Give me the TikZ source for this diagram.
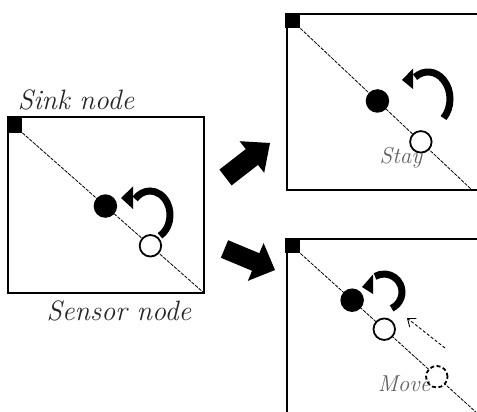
\documentclass[tikz,border=0pt]{standalone}
\usetikzlibrary{arrows.meta,calc}
\begin{document}
\begin{tikzpicture}[x=1pt,y=-1pt,
  frame/.style={line width=2.5pt},
  diag/.style={line width=0.8pt, dash pattern=on 3.5pt off 1.2pt},
  sinksq/.style={fill=black, minimum size=15pt, inner sep=0pt, anchor=north west},
  fullnode/.style={circle, fill=black, minimum size=23.5pt, inner sep=0pt},
  emptynode/.style={circle, draw, fill=white, line width=1.8pt, minimum size=21.5pt, inner sep=0pt},
  ghostnode/.style={circle, draw, fill=white, line width=1.8pt, dash pattern=on 4pt off 2.5pt, minimum size=21.5pt, inner sep=0pt},
  turn/.style={line width=7pt},
  turnhead/.style={fill=black},
  block/.style={fill=black},
  hint/.style={line width=0.9pt, dash pattern=on 3pt off 2pt, -{Straight Barb[length=7pt,width=11pt]}},
  caption/.style={font=\fontsize{28}{32}\selectfont\itshape, text=black!85, inner sep=0pt},
  tag/.style={font=\fontsize{23}{26}\selectfont\itshape, text=black!62, inner sep=0pt}]

\useasboundingbox (0,0) rectangle (477,412);
\clip (0,0) rectangle (477,412);

% ---- left panel: initial state ----
\draw[frame] (8,117) rectangle (204,293);
\coordinate (c1) at (204,293);
\node[sinksq] (sink1) at (7,117.5) {};
\draw[diag] (sink1.south east) -- (c1);
\path (sink1.south east) -- (c1)
  node[fullnode, pos=0.457] (b1) {}
  node[emptynode, pos=0.705] (w1) {};
\coordinate (r1) at (150,215);
\draw[turn] ($(r1)+(60:20 and 24)$) arc[start angle=60, end angle=-138, x radius=20, y radius=24];
\fill[turnhead] (133,186.5) -- (133,209) -- (121,198) -- cycle;
\node[caption, anchor=base] (sinktxt) at (76,110) {Sink node};
\node[caption, anchor=base] (sensortxt) at (119,320) {Sensor node};

% ---- block arrows to the two outcomes ----
\fill[block] (219.4,169.6) -- (245.8,149.1) -- (239.6,141.2) -- (270,143)
  -- (264.2,172.8) -- (258.0,164.9) -- (231.6,185.4) -- cycle;
\fill[block] (228.15,240.23) -- (259.35,253.23) -- (263.57,243.08) -- (275,270)
  -- (247.83,280.92) -- (252.05,270.77) -- (220.85,257.77) -- cycle;

% ---- upper right panel: stay ----
\draw[frame] (490,14) -- (287,14) -- (287,190) -- (490,190);
\coordinate (c2) at (472,190);
\node[sinksq] (sink2) at (285,13) {};
\draw[diag] (sink2.south east) -- (c2);
\path (sink2.south east) -- (c2)
  node[fullnode, pos=0.449] (b2) {}
  node[emptynode, pos=0.702] (w2) {};
\coordinate (r2) at (428,99);
\draw[turn] ($(r2)+(45:22 and 27)$) arc[start angle=45, end angle=-126, x radius=22, y radius=27];
\fill[turnhead] (413,68.5) -- (413,89) -- (402,80) -- cycle;
\node[tag, anchor=base] (stay) at (401,164) {Stay};

% ---- lower right panel: move ----
\draw[frame] (490,239) -- (287,239) -- (287,425);
\coordinate (c3) at (490,424.8);
\node[sinksq] (sink3) at (285,238) {};
\draw[diag] (sink3.south east) -- (c3);
\path (sink3.south east) -- (c3)
  node[fullnode, pos=0.2730] (b3) {}
  node[emptynode, pos=0.4423] (w3) {}
  node[ghostnode, pos=0.7194] (g3) {};
\coordinate (r3) at (384,292);
\draw[turn] ($(r3)+(65:18)$) arc[start angle=65, end angle=-120, radius=18];
\fill[turnhead] (373,274.5) -- (373,294) -- (362,287) -- cycle;
\coordinate (hintstart) at (445,348);
\coordinate (hintend) at (407,318);
\draw[hint] (hintstart) -- (hintend);
\node[tag, anchor=base] (move) at (404,391) {Move};
\end{tikzpicture}
\end{document}
